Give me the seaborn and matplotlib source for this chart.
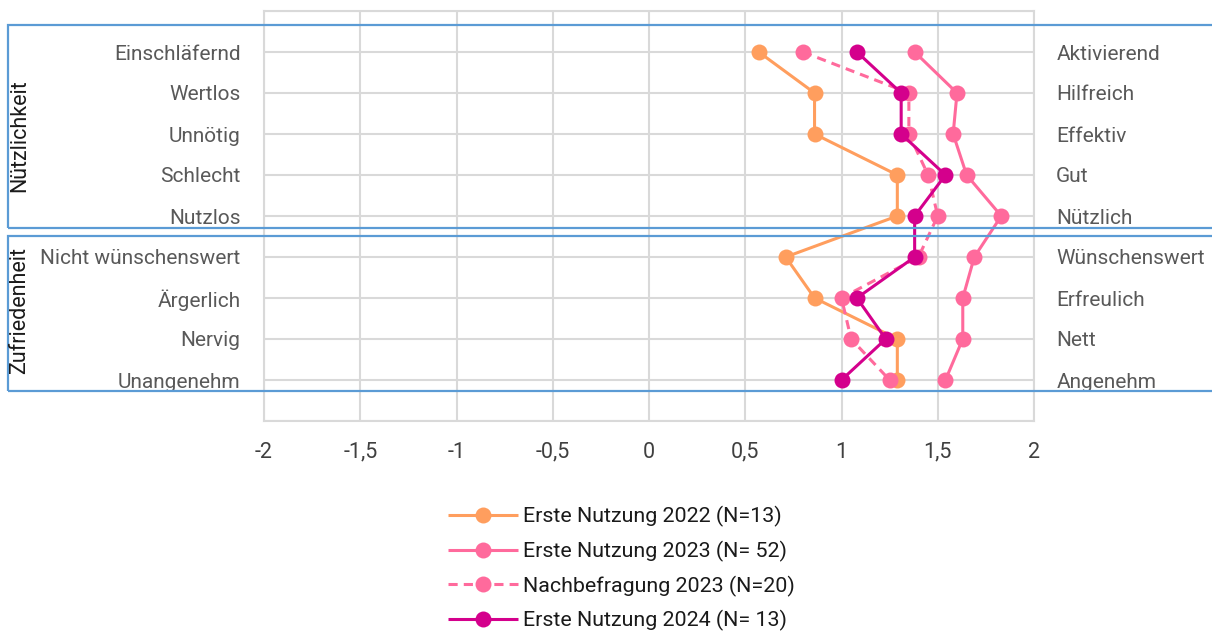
import numpy as np
import pandas as pd
import seaborn as sns
import matplotlib.pyplot as plt
from matplotlib.patches import Rectangle
from matplotlib.lines import Line2D

# Daten
items_links = ["Einschläfernd", "Wertlos", "Unnötig", "Schlecht", "Nutzlos",
               "Nicht wünschenswert", "Ärgerlich", "Nervig", "Unangenehm"]
items_rechts = ["Aktivierend", "Hilfreich", "Effektiv", "Gut", "Nützlich",
                "Wünschenswert", "Erfreulich", "Nett", "Angenehm"]
gruppen = ["Nützlichkeit", "Zufriedenheit"]

serien = ["Erste Nutzung 2022 (N=13)", "Erste Nutzung 2023 (N= 52)",
          "Nachbefragung 2023 (N=20)", "Erste Nutzung 2024 (N= 13)"]
erste_2022 = [0.57, 0.86, 0.86, 1.29, 1.29, 0.71, 0.86, 1.29, 1.29]
erste_2023 = [1.38, 1.60, 1.58, 1.65, 1.83, 1.69, 1.63, 1.63, 1.54]
nach_2023 = [0.80, 1.35, 1.35, 1.45, 1.50, 1.40, 1.00, 1.05, 1.25]
erste_2024 = [1.08, 1.31, 1.31, 1.54, 1.38, 1.38, 1.08, 1.23, 1.00]

x_ticks = [-2, -1.5, -1, -0.5, 0, 0.5, 1, 1.5, 2]
x_labels = ["-2", "-1,5", "-1", "-0,5", "0", "0,5", "1", "1,5", "2"]

farben = ["#FF9E5E", "#FF6A9C", "#FF6A9C", "#D4008C"]
dashes = [(1, 0), (1, 0), (3.0, 2.0), (1, 0)]

sns.set_theme(style="white")
plt.rcParams["font.family"] = ["Roboto", "DejaVu Sans"]

werte = [erste_2022, erste_2023, nach_2023, erste_2024]
df = pd.concat([pd.DataFrame({"serie": s, "wert": w, "pos": np.arange(1, 10)})
                for s, w in zip(serien, werte)])

fig = plt.figure(figsize=(12.12, 6.37), dpi=100)
ax = fig.add_axes([264 / 1212, 1 - 421 / 637, 770 / 1212, 410 / 637])

sns.lineplot(data=df, x="wert", y="pos", hue="serie", style="serie",
             palette=dict(zip(serien, farben)), dashes=dict(zip(serien, dashes)),
             markers=dict(zip(serien, ["o"] * 4)), markersize=11.5,
             markeredgewidth=0, linewidth=2.2, sort=False, orient="y",
             estimator=None, legend=False, ax=ax)

grau = "#D9D9D9"
ax.set_xlim(-2, 2)
ax.set_ylim(10, 0)
ax.set_xticks(x_ticks)
ax.set_xticklabels(x_labels)
ax.set_yticks(range(0, 11))
ax.set_yticklabels([""] + items_links + [""])
ax.set_xlabel("")
ax.set_ylabel("")
ax.grid(True, color=grau, lw=1.5)
ax.set_axisbelow(True)
for sp in ax.spines.values():
    sp.set_color(grau)
    sp.set_linewidth(1.5)
ax.tick_params(axis="y", length=0, pad=17, labelsize=15, labelcolor="#595959")
ax.tick_params(axis="x", length=0, pad=15, labelsize=15.5, labelcolor="#404040")

ax2 = ax.twinx()
ax2.set_ylim(10, 0)
ax2.set_yticks(range(0, 11))
ax2.set_yticklabels([""] + items_rechts + [""])
ax2.tick_params(axis="y", length=0, pad=16, labelsize=15, labelcolor="#595959")
for sp in ax2.spines.values():
    sp.set_visible(False)

# Gruppenrahmen
blau = "#5B9BD5"
W, H = 1212, 637
for (y0, y1), yc, name in zip([(25, 228), (236, 391)], [136, 310], gruppen):
    fig.patches.append(Rectangle((8 / W, 1 - y1 / H), 1.02, (y1 - y0) / H,
                                 transform=fig.transFigure, fill=False,
                                 edgecolor=blau, lw=1.6, clip_on=False))
    fig.text(20 / W, 1 - yc / H, name, rotation=90, ha="center",
             va="center", fontsize=15.5, color="#1A1A1A")

handles = [Line2D([], [], color=c, lw=2.2, dashes=d, marker="o", markersize=11.5,
                  markeredgewidth=0) for c, d in zip(farben, dashes)]
fig.legend(handles, serien, loc="upper left", bbox_to_anchor=(448 / W, 1 - 506 / H),
           frameon=False, fontsize=15.4, handlelength=3.27, handletextpad=0.23,
           labelspacing=0.64, borderpad=0, borderaxespad=0, labelcolor="#1A1A1A")

fig.savefig("out.png", dpi=100)
